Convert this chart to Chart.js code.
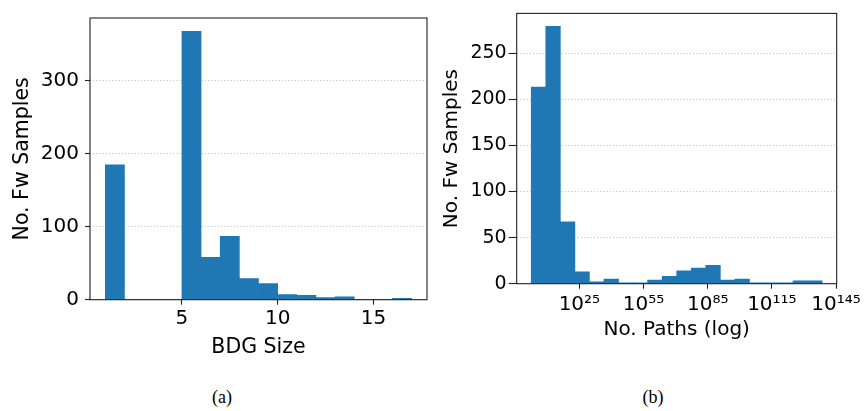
<!DOCTYPE html>
<html>
<head>
<meta charset="utf-8">
<script src="https://cdn.jsdelivr.net/npm/chart.js@4/dist/chart.umd.min.js"></script>
<style>
  body { margin: 0; background: #fff; width: 865px; height: 411px; position: relative; overflow: hidden; }
  canvas { position: absolute; top: 0; }
  #bdgChart { left: 0; }
  #pathChart { left: 430px; }
  .caption { position: absolute; top: 386px; width: 60px; text-align: center;
             font: 18px "Liberation Serif", "Times New Roman", serif; line-height: 22px; color: #000; }
</style>
</head>
<body>
<canvas id="bdgChart" width="432" height="370"></canvas>
<canvas id="pathChart" width="435" height="370"></canvas>
<div class="caption" style="left:192px">(a)</div>
<div class="caption" style="left:623px">(b)</div>

<script>
// (a) BDG size histogram: lower bin edges and counts
const bdgBins = [1, 2, 3, 4, 5, 6, 7, 8, 9, 10, 11, 12, 13, 14, 15, 16];
const bdgCounts = [185, 0, 0, 0, 368, 58, 87, 29, 22, 7, 6, 3, 4, 0, 0, 2];
const bdgXTicks = [5, 10, 15];
const bdgYTicks = [0, 100, 200, 300];

// (b) number of paths histogram, bins in log10 units
const pathBins = [2.5, 9.3, 16.1, 22.9, 29.7, 36.5, 43.3, 50.1, 56.9, 63.7,
                  70.5, 77.3, 84.1, 90.9, 97.7, 104.5, 111.3, 118.1, 124.9, 131.7];
const pathCounts = [213, 279, 67, 13, 2, 5, 1, 1, 4, 8, 14, 17, 20, 4, 5, 1, 1, 1, 3, 3];
const pathXTicks = [25, 55, 85, 115, 145];
const pathXLabels = ["10\u00b2\u2075", "10\u2075\u2075", "10\u2078\u2075", "10\u00b9\u00b9\u2075", "10\u00b9\u2074\u2075"];
const pathYTicks = [0, 50, 100, 150, 200, 250];

const BLUE = "#1f77b4";
const FONT = "'DejaVu Sans', sans-serif";

// box around the plot area like matplotlib spines
const framePlugin = {
  id: "frame",
  afterDraw(chart) {
    const { ctx, chartArea: a } = chart;
    ctx.save();
    ctx.strokeStyle = "#222";
    ctx.lineWidth = 1.1;
    ctx.strokeRect(a.left, a.top, a.right - a.left, a.bottom - a.top);
    ctx.restore();
  }
};

function histChart(id, bins, counts, xTicks, xLabels, yTicks, g) {
  const w = bins[1] - bins[0];
  const lo = bins[0], hi = bins[bins.length - 1] + w;
  const pad = (hi - lo) * 0.05;
  const points = bins.map((b, i) => ({ x: b + w / 2, y: counts[i] }));

  return new Chart(document.getElementById(id), {
    type: "bar",
    data: {
      datasets: [{
        data: points,
        backgroundColor: BLUE,
        borderWidth: 0,
        barPercentage: 1.0,
        categoryPercentage: 1.0
      }]
    },
    plugins: [framePlugin],
    options: {
      responsive: false,
      animation: false,
      devicePixelRatio: 1,
      layout: { padding: { top: 5, right: g.padRight, left: 0, bottom: 0 } },
      plugins: { legend: { display: false }, tooltip: { enabled: false } },
      scales: {
        x: {
          type: "linear",
          offset: false,
          min: lo - pad,
          max: hi + pad,
          afterBuildTicks: (s) => { s.ticks = xTicks.map(v => ({ value: v })); },
          afterFit: (s) => { s.height = g.xAxisH; },
          grid: { offset: false, drawOnChartArea: false, drawTicks: true, tickLength: 5, tickColor: "#222", tickWidth: 1.1 },
          border: { display: false },
          ticks: {
            color: "#000",
            font: { family: FONT, size: g.xTickSize },
            padding: g.xTickPad,
            maxRotation: 0,
            autoSkip: false,
            callback: (v) => xLabels ? xLabels[xTicks.indexOf(v)] : String(v)
          },
          title: {
            display: true, text: g.xTitle, color: "#000",
            font: { family: FONT, size: g.titleSize },
            padding: { top: 0, bottom: g.xTitlePad }
          }
        },
        y: {
          min: 0,
          max: Math.max(...counts) * 1.05,
          afterBuildTicks: (s) => { s.ticks = yTicks.map(v => ({ value: v })); },
          afterFit: (s) => { s.width = g.yAxisW; },
          grid: { color: "#b8b8b8", lineWidth: 0.8, drawTicks: true, tickLength: g.yTickLen, tickColor: "#222", tickWidth: 1.1, tickBorderDash: [] },
          border: { display: false, dash: [1.2, 2] },
          ticks: {
            color: "#000",
            font: { family: FONT, size: g.yTickSize },
            padding: g.yTickPad
          },
          title: {
            display: true, text: "No. Fw Samples", color: "#000",
            font: { family: FONT, size: g.titleSize },
            padding: { top: g.yTitlePad, bottom: 0 }
          }
        }
      }
    }
  });
}

histChart("bdgChart", bdgBins, bdgCounts, bdgXTicks, null, bdgYTicks, {
  padRight: 5, xAxisH: 70.3, yAxisW: 90,
  xTickSize: 20, yTickSize: 20, titleSize: 20.5,
  xTickPad: 2, yTickPad: 6, yTickLen: 5,
  xTitle: "BDG Size", xTitlePad: 10, yTitlePad: 10
});

histChart("pathChart", pathBins, pathCounts, pathXTicks, pathXLabels, pathYTicks, {
  padRight: 28.3, xAxisH: 86.3, yAxisW: 86.7,
  xTickSize: 20, yTickSize: 19, titleSize: 20,
  xTickPad: 4, yTickPad: 2, yTickLen: 8,
  xTitle: "No. Paths (log)", xTitlePad: 28, yTitlePad: 10
});
</script>
</body>
</html>
